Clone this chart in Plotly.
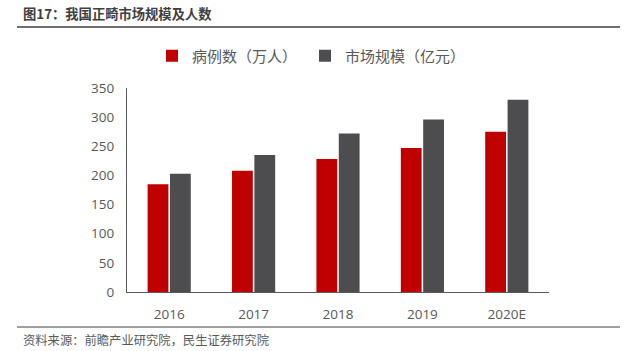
import plotly.graph_objects as go

categories = ["2016", "2017", "2018", "2019", "2020E"]
cases = [185, 208, 228, 247, 275]
market = [203, 235, 272, 296, 330]
series_names = ["病例数（万人）", "市场规模（亿元）"]
title_text = "图17：我国正畸市场规模及人数"
source_text = "资料来源：前瞻产业研究院，民生证券研究院"

CJK = "Noto Sans CJK SC"

fig = go.Figure()
fig.add_trace(go.Bar(x=categories, y=cases, name=series_names[0],
                     marker=dict(color="#C00000", line=dict(width=0))))
fig.add_trace(go.Bar(x=categories, y=market, name=series_names[1],
                     marker=dict(color="#4D4D4F", line=dict(width=0))))

L, R, T, B = 127, 86, 88, 59
W, H = 635, 351
pw = W - L - R
ph = H - T - B

def px(x):
    return (x - L) / pw

def py(y):
    return (H - B - y) / ph

fig.update_layout(
    width=W, height=H,
    margin=dict(l=L, r=R, t=T, b=B),
    paper_bgcolor="white", plot_bgcolor="white",
    barmode="group", bargap=0.47, bargroupgap=0.07,
    font=dict(family=CJK, color="#595959", size=13),
    legend=dict(orientation="h", x=px(152), y=py(56), xanchor="left", yanchor="middle",
                font=dict(size=15, color="#595959", family=CJK),
                itemwidth=30, tracegroupgap=0, entrywidthmode="pixels", entrywidth=108),
    showlegend=True,
    xaxis=dict(showline=True, linecolor="#595959", linewidth=1.3, ticks="",
               ticklabelstandoff=10,
               showgrid=False, tickfont=dict(size=13.5, color="#595959", family="Open Sans")),
    yaxis=dict(range=[0, 350], dtick=50, showline=True, linecolor="#595959", linewidth=1.3,
               showgrid=False, zeroline=False, ticks="", ticklabelstandoff=9,
               tickfont=dict(size=13.5, color="#595959", family="Open Sans")),
    annotations=[
        dict(text="<b>" + title_text + "</b>", xref="paper", yref="paper",
             x=px(21), y=py(13), xanchor="left", yanchor="middle", showarrow=False,
             font=dict(size=13.3, color="#404040", family=CJK)),
        dict(text=source_text, xref="paper", yref="paper",
             x=px(21), y=py(340), xanchor="left", yanchor="middle", showarrow=False,
             font=dict(size=12.3, color="#595959", family=CJK)),
    ],
    shapes=[
        dict(type="line", xref="paper", yref="paper", x0=px(17), x1=px(620),
             y0=py(27), y1=py(27), line=dict(color="#404040", width=1.5)),
        dict(type="line", xref="paper", yref="paper", x0=px(17), x1=px(620),
             y0=py(327), y1=py(327), line=dict(color="#404040", width=1)),
    ],
)

fig.write_html("out.html")
